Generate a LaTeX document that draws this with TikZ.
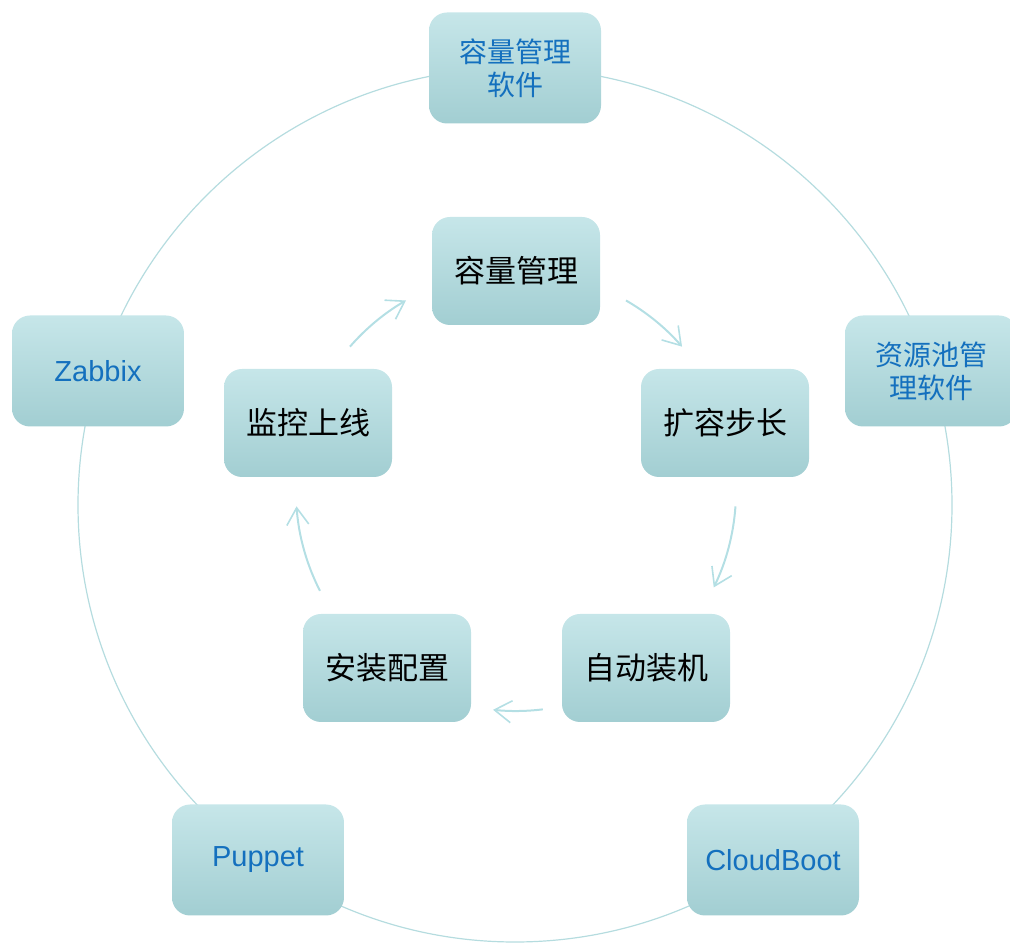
\documentclass[tikz,border=0pt]{standalone}
\usepackage{fontspec}
\usepackage{tikz}
\usepackage{xcolor}
\usetikzlibrary{positioning, arrows.meta}
\setmainfont{Liberation Sans}
\newfontfamily\cjk{Noto Sans CJK SC}
\definecolor{boxtop}{HTML}{C6E6E9}
\definecolor{boxbot}{HTML}{A2CED2}
\definecolor{ringc}{HTML}{B5DCDF}
\definecolor{arrc}{HTML}{B4DFE4}
\definecolor{txtblue}{HTML}{1470BE}

\begin{document}
\begin{tikzpicture}[x=1pt, y=1pt,
    tool/.style={rounded corners=18pt, top color=boxtop, bottom color=boxbot, draw=none,
      minimum width=172pt, minimum height=111pt, align=center, text=txtblue,
      font=\fontsize{28}{33}\selectfont\cjk},
    stage/.style={rounded corners=18pt, top color=boxtop, bottom color=boxbot, draw=none,
      minimum width=168pt, minimum height=108pt, align=center, text=black,
      font=\fontsize{31}{36}\selectfont\cjk},
    flow/.style={draw=arrc, line width=2pt, -{Straight Barb[length=17pt, width=22pt, line width=1.6pt]}}]
     \clip (0,0) rectangle (1010,943);
     \coordinate (outer) at (515,438);
     \coordinate (inner) at (516,452);
     \draw[ringc, line width=1.2pt] (outer) circle[radius=437]; %outer ring
     % outer tools
     \node[tool] (capsoft) at (515,875) {容量管理\\软件};
     \node[tool] (pool) at (931,572) {资源池管\\理软件};
     \node[tool, font=\fontsize{29}{33}\selectfont] (cloudboot) at (773,83) {CloudBoot};
     \node[tool, font=\fontsize{29}{33}\selectfont] (puppet) at (258,83) {Puppet};
     \node[tool, font=\fontsize{29}{33}\selectfont] (zabbix) at (98,572) {Zabbix};
     % inner cycle
     \node[stage] (plan) at (516,672) {容量管理};
     \node[stage] (stepsize) at (725,520) {扩容步长};
     \node[stage] (autoinst) at (646,275) {自动装机};
     \node[stage] (config) at (387,275) {安装配置};
     \node[stage] (monitor) at (308,520) {监控上线};
     \draw[flow] ([shift={(60:220)}]inner) arc[start angle=60, end angle=41, radius=220];
     \draw[flow] ([shift={(-4:220)}]inner) arc[start angle=-4, end angle=-26, radius=220];
     \draw[flow] ([shift={(-83:220)}]inner) arc[start angle=-83, end angle=-96, radius=220];
     \draw[flow] ([shift={(207:220)}]inner) arc[start angle=207, end angle=184, radius=220];
     \draw[flow] ([shift={(139:220)}]inner) arc[start angle=139, end angle=120, radius=220];
   \end{tikzpicture}
\end{document}
